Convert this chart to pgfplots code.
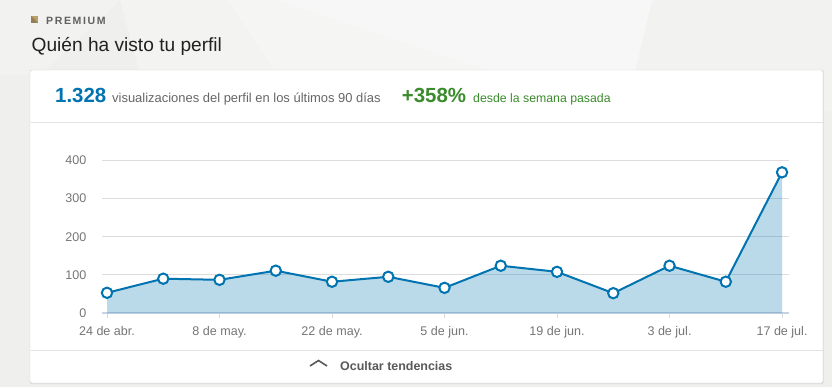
\documentclass[border=0pt]{standalone}
\usepackage{fontspec}
\setmainfont{Liberation Sans}
\usepackage{pgfplots}
\usepackage{pgfplotstable}
\pgfplotsset{compat=1.18}
\definecolor{lnkblue}{HTML}{0073B1}
\definecolor{gridc}{HTML}{DCDCDC}
\definecolor{tickc}{HTML}{767676}
\definecolor{greenc}{HTML}{3A8C2C}
\definecolor{bgc}{HTML}{EFEFEE}
\definecolor{gold}{HTML}{B9A06A}
\definecolor{axisc}{HTML}{C9D2E2}

\pgfplotstableread{
x y
0 53
1 90
2 87
3 111
4 82
5 95
6 66
7 124
8 108
9 52
10 124
11 82
12 369
}\views

\newcommand{\ls}{\hspace{1.6bp}}

\begin{document}
\begin{tikzpicture}[x=1bp,y=1bp]
\fill[bgc] (0,0) rectangle (832,387);
\fill[white,opacity=0.22] (0,387) -- (120,387) -- (40,312) -- (0,312) -- cycle;
\fill[white,opacity=0.25] (120,387) -- (228,387) -- (302,276) -- (150,276) -- cycle;
\fill[white,opacity=0.4] (228,387) -- (276,387) -- (610,276) -- (302,276) -- cycle;
\fill[white,opacity=0.55] (276,387) -- (652,387) -- (626,276) -- (610,276) -- cycle;
\fill[white,opacity=0.2] (652,387) -- (832,387) -- (832,276) -- (626,276) -- cycle;
\fill[gold] (31,364) rectangle (38,371);
\fill[gold!80!black] (31,364) -- (38,364) -- (31,371) -- cycle;
\node[anchor=base west, inner sep=0pt, font=\fontsize{10.6}{13}\selectfont\bfseries, text=black!62] at (46,363) {P\ls R\ls E\ls M\ls I\ls U\ls M};
\node[anchor=base west, inner sep=0pt, font=\fontsize{19.2}{22}\selectfont, text=black!87] at (31.5,335.3) {Quién ha visto tu perfil};
% card
\fill[black!12, rounded corners=2bp] (30,2.8) rectangle (823.8,317);
\draw[fill=white, draw=black!18, rounded corners=2bp] (30,4) rectangle (823,317);
\draw[black!11] (30.5,265) -- (822.5,265);
\draw[black!11] (30.5,37) -- (822.5,37);
\node[anchor=base west, inner sep=0pt, font=\fontsize{20.5}{24}\selectfont\bfseries, text=lnkblue] at (55,284.7) {1.328};
\node[anchor=base west, inner sep=0pt, font=\fontsize{13}{15}\selectfont, text=black!60] at (112,284.7) {visualizaciones del perfil en los últimos 90 días};
\node[anchor=base west, inner sep=0pt, font=\fontsize{20.5}{24}\selectfont\bfseries, text=greenc] at (401.7,284.3) {+358\%};
\node[anchor=base west, inner sep=0pt, font=\fontsize{12.35}{15}\selectfont, text=greenc] at (473,284.3) {desde la semana pasada};
\draw[black!65, line width=1.6bp] (310,21) -- (318.5,26.5) -- (327,21);
\node[anchor=base west, inner sep=0pt, font=\fontsize{12.5}{15}\selectfont\bfseries, text=black!65] at (340,16.3) {Ocultar tendencias};

\begin{axis}[
  at={(102bp,74bp)}, anchor=south west, scale only axis,
  width=687bp, height=152.5bp,
  xmin=-0.0889, xmax=12.124, ymin=0, ymax=400,
  axis x line*=bottom, axis y line*=left,
  y axis line style={draw=none},
  x axis line style={axisc, line width=2bp},
  ytick={0,100,200,300,400},
  ymajorgrids, grid style={gridc, line width=1bp},
  ytick style={draw=none},
  xtick={0,2,4,6,8,10,12},
  xticklabels={24 de abr., 8 de may., 22 de may., 5 de jun., 19 de jun., 3 de jul., 17 de jul.},
  xtick style={draw=black!15, line width=1bp},
  tick align=outside, major tick length=5bp,
  ticklabel style={font=\fontsize{12.6}{14}\selectfont, text=tickc},
  yticklabel style={anchor=east, inner sep=0pt, xshift=-10.5bp},
  xticklabel style={anchor=north, inner sep=0pt, yshift=-8.5bp},
  /pgf/number format/assume math mode=true,
  clip=false,
]
\addplot[draw=none, fill=lnkblue, fill opacity=0.27] table {\views} \closedcycle;
\addplot[lnkblue, line width=2bp, mark=*, mark size=5.2bp,
  mark options={fill=white, draw=lnkblue, line width=2bp}] table {\views};
\end{axis}
\end{tikzpicture}
\end{document}
